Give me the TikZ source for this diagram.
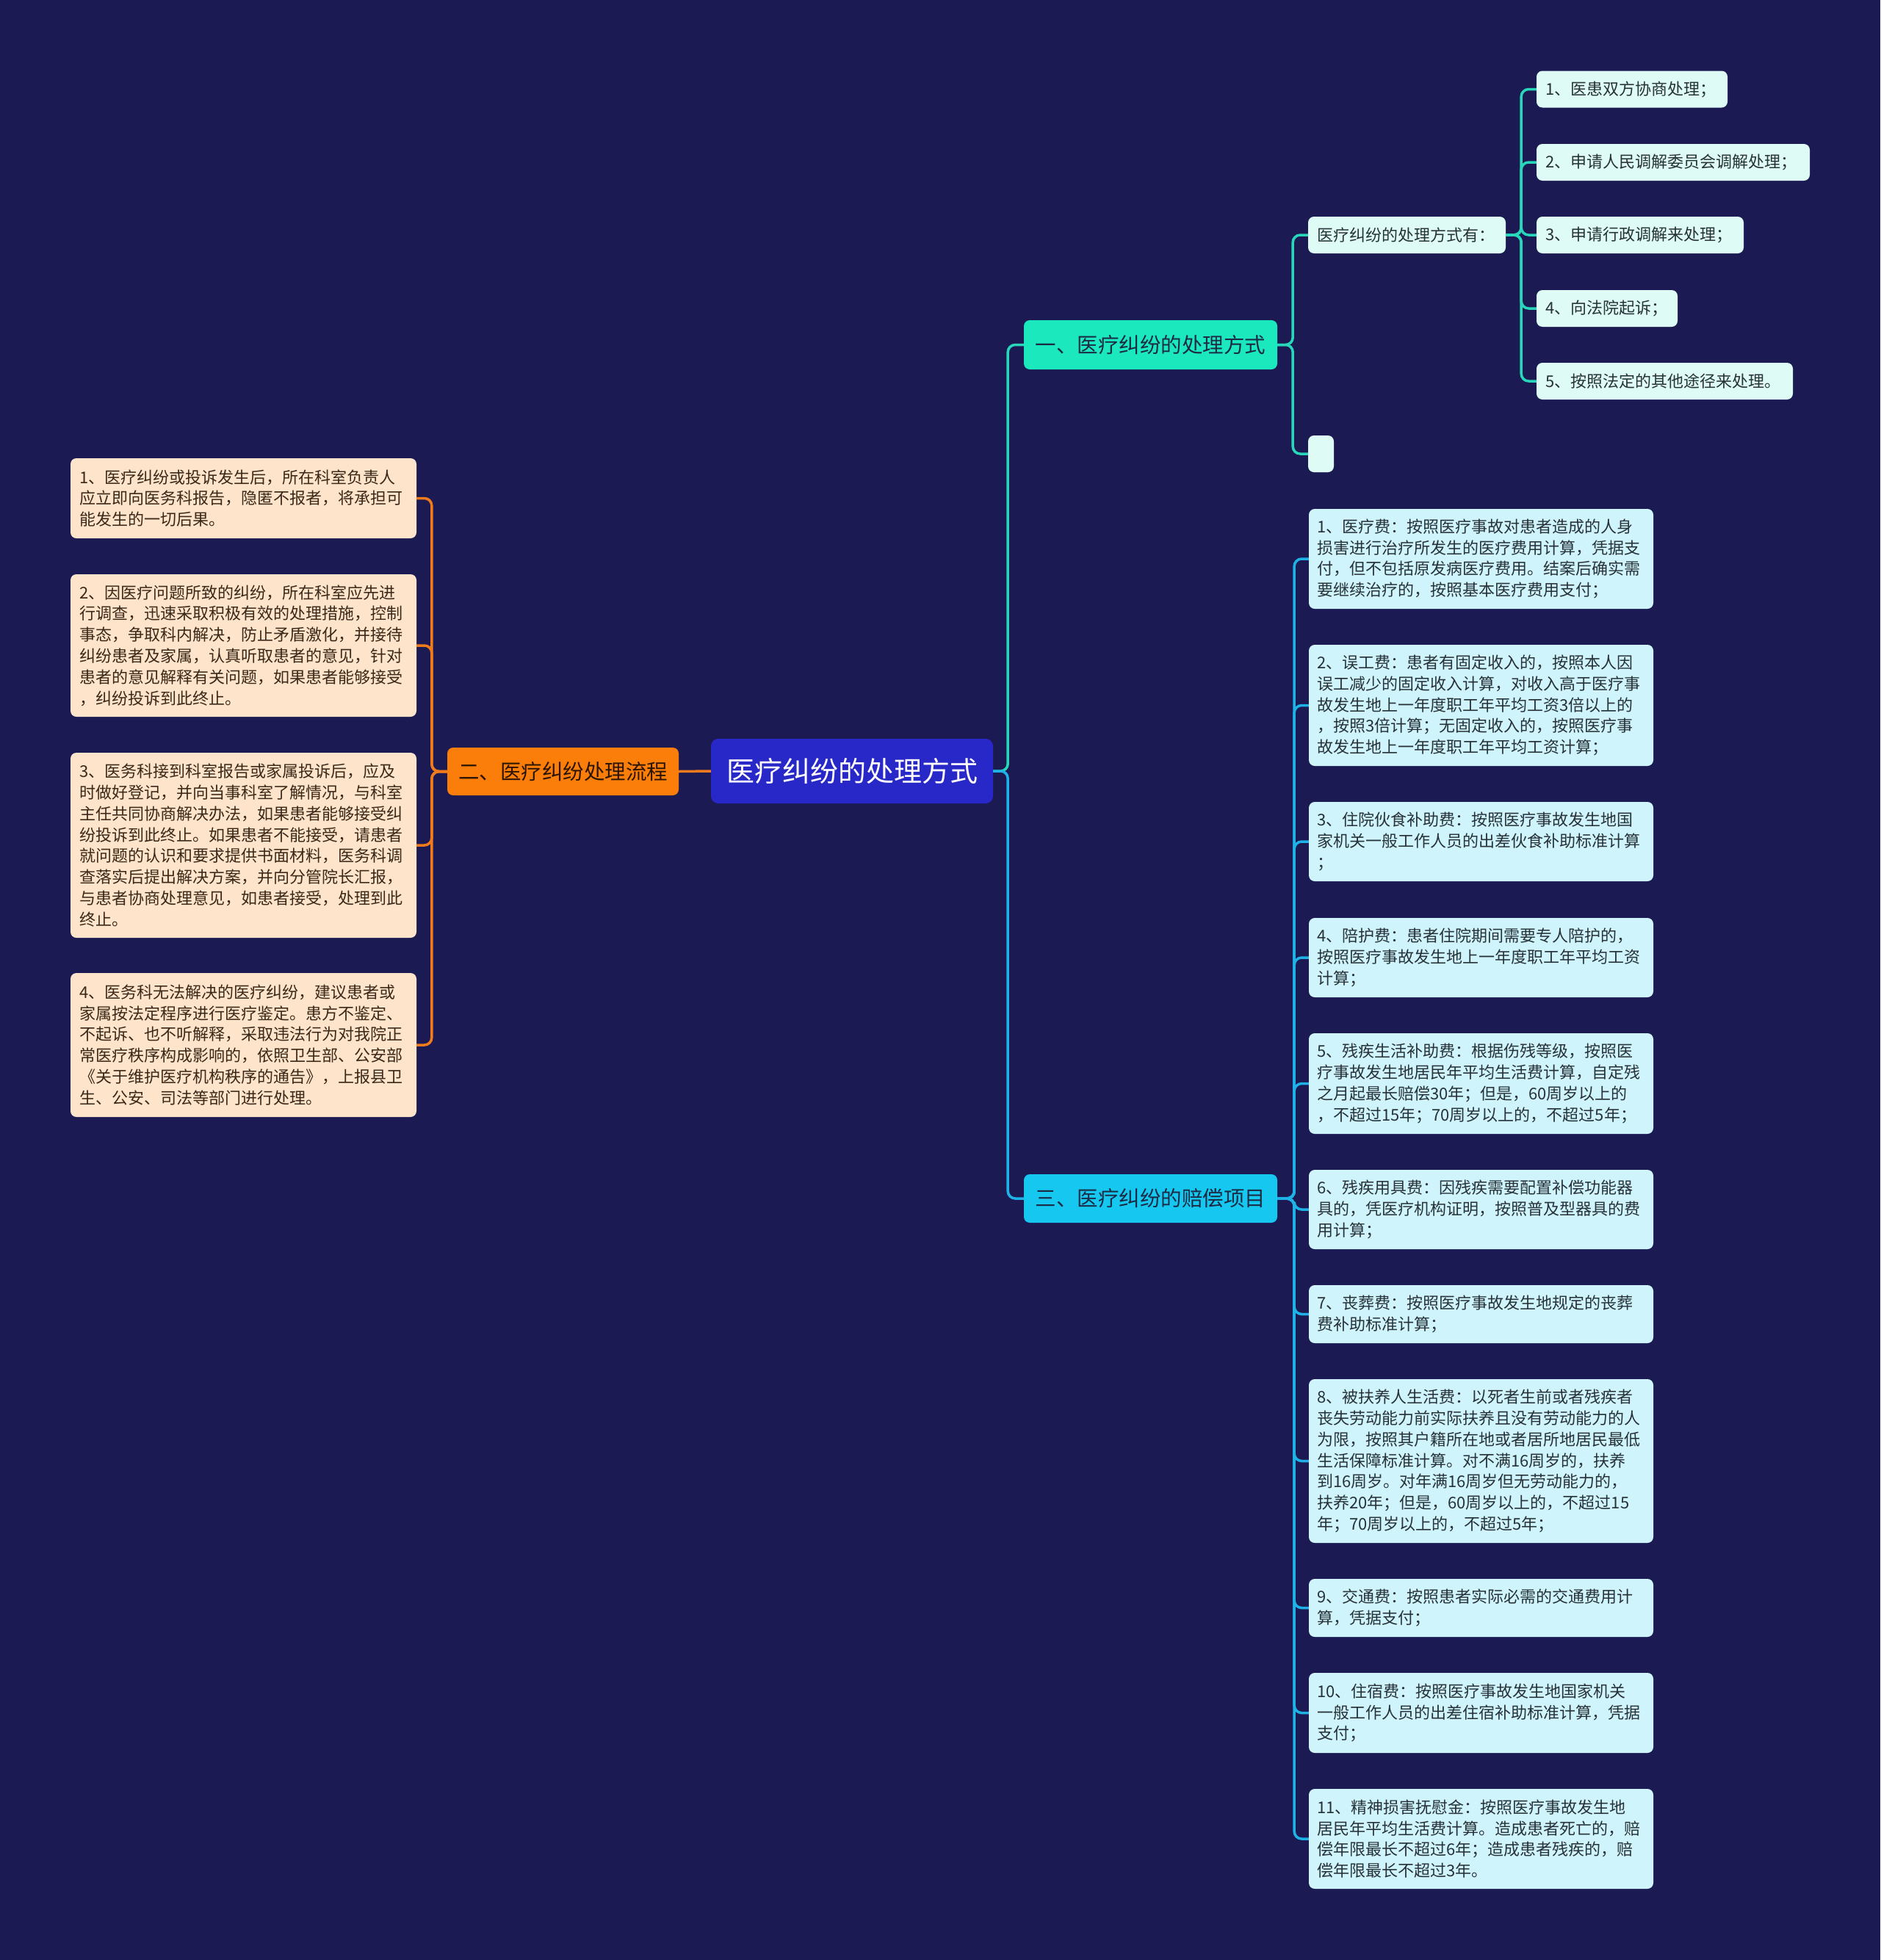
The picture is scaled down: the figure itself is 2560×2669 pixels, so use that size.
\documentclass[tikz,border=0pt]{standalone}
\usepackage{fontspec}
\setmainfont{Noto Sans CJK SC}
\definecolor{bgc}{RGB}{27,26,82}
\definecolor{centerfill}{RGB}{40,40,200}
\definecolor{orangefill}{RGB}{252,126,10}
\definecolor{orangetext}{RGB}{43,21,0}
\definecolor{orangeline}{RGB}{240,122,30}
\definecolor{peachfill}{RGB}{253,228,202}
\definecolor{peachtext}{RGB}{58,40,24}
\definecolor{tealnode}{RGB}{28,232,190}
\definecolor{tealline}{RGB}{40,215,185}
\definecolor{tealfill}{RGB}{222,252,245}
\definecolor{cyannode}{RGB}{22,200,240}
\definecolor{cyanline}{RGB}{30,178,230}
\definecolor{cyanfill}{RGB}{208,244,252}
\definecolor{darktext}{RGB}{27,43,69}
\definecolor{itemtext}{RGB}{38,50,56}
\begin{document}
\begin{tikzpicture}[x=1pt,y=-1pt,
  conn/.style={line width=3.5pt, rounded corners=10pt},
  box/.style={rounded corners=8pt, align=left, inner ysep=0pt, font=\fontsize{22}{28.8}\selectfont},
  peachbox/.style={box, fill=peachfill, text=peachtext, text width=447pt, inner xsep=12pt},
  cyanbox/.style={box, fill=cyanfill, text=itemtext, text width=447pt, inner xsep=11pt},
  tealbox/.style={box, fill=tealfill, text=itemtext, inner xsep=12pt, minimum height=50pt},
  branch/.style={rounded corners=8pt, inner sep=0pt, font=\fontsize{28.5}{34}\selectfont},
]
\fill[bgc] (0,0) rectangle (2560,2669);
\useasboundingbox (0,0) rectangle (2560,2669);

% central node
\node[rounded corners=10pt, fill=centerfill, text=white, inner sep=0pt,
      minimum width=384pt, minimum height=88pt, font=\fontsize{38}{44}\selectfont]
      (c) at (1160,1050) {医疗纠纷的处理方式};

% branches
\node[branch, fill=tealnode, text=darktext, minimum width=345pt, minimum height=67pt]
      (b1) at (1566.5,469.5) {一、医疗纠纷的处理方式};
\node[branch, fill=orangefill, text=orangetext, minimum width=315pt, minimum height=65pt]
      (b2) at (766.5,1050.5) {二、医疗纠纷处理流程};
\node[branch, fill=cyannode, text=darktext, minimum width=345pt, minimum height=66pt]
      (b3) at (1566.5,1632) {三、医疗纠纷的赔偿项目};

% branch one children
\node[tealbox, text width=245pt] (a0) at (1915.5,320) {医疗纠纷的处理方式有：};
\node[tealbox, fill=tealfill, minimum width=35pt, inner xsep=0pt] (aE) at (1798.5,618) {};
\node[tealbox, text width=236pt] (a1) at (2222,121.5) {1、医患双方协商处理；};
\node[tealbox, text width=348pt] (a2) at (2278,221) {2、申请人民调解委员会调解处理；};
\node[tealbox, text width=258pt] (a3) at (2233,320) {3、申请行政调解来处理；};
\node[tealbox, text width=168pt] (a4) at (2188,420) {4、向法院起诉；};
\node[tealbox, text width=325pt] (a5) at (2266.5,519) {5、按照法定的其他途径来处理。};

% branch two children
\node[peachbox, minimum height=109pt] (l1) at (331.5,678.5) {1、医疗纠纷或投诉发生后，所在科室负责人\\应立即向医务科报告，隐匿不报者，将承担可\\能发生的一切后果。};
\node[peachbox, minimum height=194pt] (l2) at (331.5,879) {2、因医疗问题所致的纠纷，所在科室应先进\\行调查，迅速采取积极有效的处理措施，控制\\事态，争取科内解决，防止矛盾激化，并接待\\纠纷患者及家属，认真听取患者的意见，针对\\患者的意见解释有关问题，如果患者能够接受\\，纠纷投诉到此终止。};
\node[peachbox, minimum height=252pt] (l3) at (331.5,1151) {3、医务科接到科室报告或家属投诉后，应及\\时做好登记，并向当事科室了解情况，与科室\\主任共同协商解决办法，如果患者能够接受纠\\纷投诉到此终止。如果患者不能接受，请患者\\就问题的认识和要求提供书面材料，医务科调\\查落实后提出解决方案，并向分管院长汇报，\\与患者协商处理意见，如患者接受，处理到此\\终止。};
\node[peachbox, minimum height=196pt] (l4) at (331.5,1423) {4、医务科无法解决的医疗纠纷，建议患者或\\家属按法定程序进行医疗鉴定。患方不鉴定、\\不起诉、也不听解释，采取违法行为对我院正\\常医疗秩序构成影响的，依照卫生部、公安部\\《关于维护医疗机构秩序的通告》，上报县卫\\生、公安、司法等部门进行处理。};

% branch three children
\node[cyanbox, minimum height=136pt] (r1) at (2016.5,761) {1、医疗费：按照医疗事故对患者造成的人身\\损害进行治疗所发生的医疗费用计算，凭据支\\付，但不包括原发病医疗费用。结案后确实需\\要继续治疗的，按照基本医疗费用支付；};
\node[cyanbox, minimum height=165pt] (r2) at (2016.5,960.5) {2、误工费：患者有固定收入的，按照本人因\\误工减少的固定收入计算，对收入高于医疗事\\故发生地上一年度职工年平均工资3倍以上的\\，按照3倍计算；无固定收入的，按照医疗事\\故发生地上一年度职工年平均工资计算；};
\node[cyanbox, minimum height=108pt] (r3) at (2016.5,1146) {3、住院伙食补助费：按照医疗事故发生地国\\家机关一般工作人员的出差伙食补助标准计算\\；};
\node[cyanbox, minimum height=108pt] (r4) at (2016.5,1304) {4、陪护费：患者住院期间需要专人陪护的，\\按照医疗事故发生地上一年度职工年平均工资\\计算；};
\node[cyanbox, minimum height=137pt] (r5) at (2016.5,1475.5) {5、残疾生活补助费：根据伤残等级，按照医\\疗事故发生地居民年平均生活费计算，自定残\\之月起最长赔偿30年；但是，60周岁以上的\\，不超过15年；70周岁以上的，不超过5年；};
\node[cyanbox, minimum height=108pt] (r6) at (2016.5,1647) {6、残疾用具费：因残疾需要配置补偿功能器\\具的，凭医疗机构证明，按照普及型器具的费\\用计算；};
\node[cyanbox, minimum height=79pt] (r7) at (2016.5,1789.5) {7、丧葬费：按照医疗事故发生地规定的丧葬\\费补助标准计算；};
\node[cyanbox, minimum height=223pt] (r8) at (2016.5,1989.5) {8、被扶养人生活费：以死者生前或者残疾者\\丧失劳动能力前实际扶养且没有劳动能力的人\\为限，按照其户籍所在地或者居所地居民最低\\生活保障标准计算。对不满16周岁的，扶养\\到16周岁。对年满16周岁但无劳动能力的，\\扶养20年；但是，60周岁以上的，不超过15\\年；70周岁以上的，不超过5年；};
\node[cyanbox, minimum height=79pt] (r9) at (2016.5,2189.5) {9、交通费：按照患者实际必需的交通费用计\\算，凭据支付；};
\node[cyanbox, minimum height=109pt] (r10) at (2016.5,2332.5) {10、住宿费：按照医疗事故发生地国家机关\\一般工作人员的出差住宿补助标准计算，凭据\\支付；};
\node[cyanbox, minimum height=136pt] (r11) at (2016.5,2504) {11、精神损害抚慰金：按照医疗事故发生地\\居民年平均生活费计算。造成患者死亡的，赔\\偿年限最长不超过6年；造成患者残疾的，赔\\偿年限最长不超过3年。};

% connectors
\draw[conn, tealline] (c.east) -- ++(20,0) |- (b1.west);
\draw[conn, cyanline] (c.east) -- ++(20,0) |- (b3.west);
\draw[conn, orangeline] (c.west) -- (b2.east);

\foreach \n in {l1,l2,l3,l4}
  \draw[conn, orangeline] (b2.west) -- ++(-21,0) |- (\n.east);

\foreach \n in {a0,aE}
  \draw[conn, tealline] (b1.east) -- ++(21,0) |- (\n.west);
\foreach \n in {a1,a2,a3,a4,a5}
  \draw[conn, tealline] (a0.east) -- ++(21,0) |- (\n.west);

\foreach \n in {r1,r2,r3,r4,r5,r6,r7,r8,r9,r10,r11}
  \draw[conn, cyanline] (b3.east) -- ++(23,0) |- (\n.west);
\end{tikzpicture}
\end{document}
